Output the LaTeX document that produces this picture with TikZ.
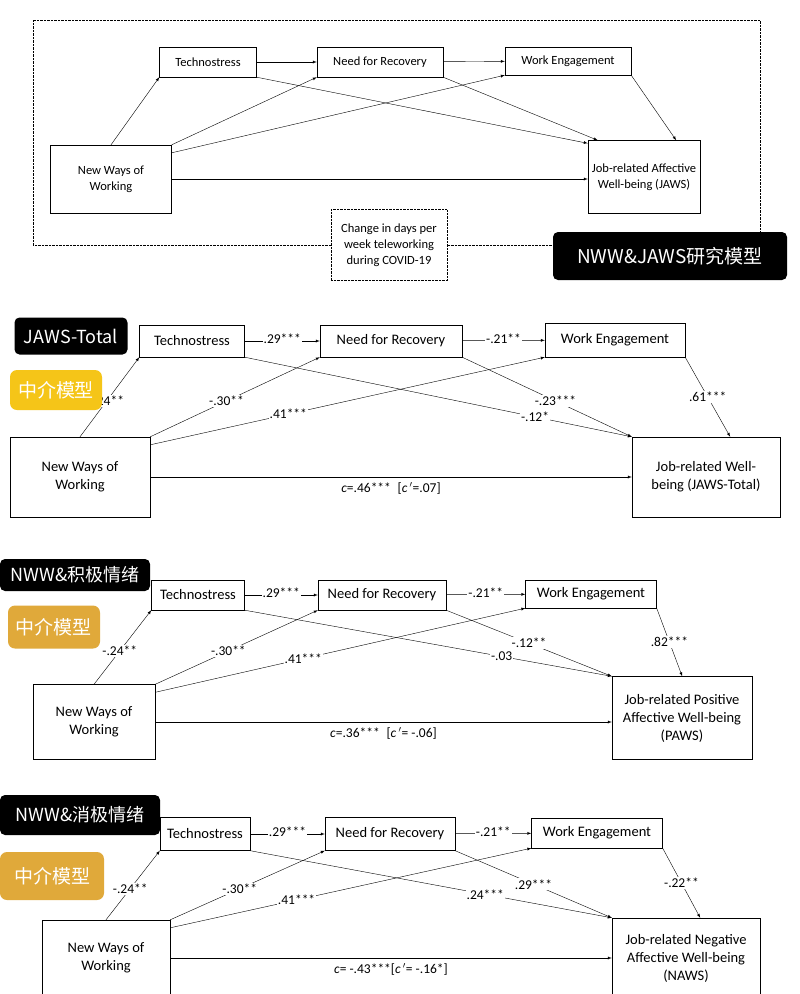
\documentclass[tikz,border=0pt]{standalone}
\usepackage{fontspec}
\setmainfont{Carlito}
\newfontfamily\cjk{Noto Sans CJK SC}
\usetikzlibrary{positioning}
\tikzset{>=latex}
\definecolor{tagyellow}{HTML}{F5C518}
\definecolor{tagorange}{HTML}{E0A93A}
\newcommand{\boxfont}{\fontsize{14.5}{18}\selectfont}
\newcommand{\topfont}{\fontsize{12.5}{16}\selectfont}
\newcommand{\coeffont}{\fontsize{13.5}{16}\selectfont}

\begin{document}
\begin{tikzpicture}[x=1pt, y=-1pt, font=\boxfont,
  box/.style={draw, fill=white, align=center, inner sep=2pt},
  path/.style={->, thin},
  coef/.style={fill=white, inner sep=1pt, font=\coeffont},
  darktag/.style={fill=black, text=white, rounded corners=5pt, font=\cjk\fontsize{18}{20}\selectfont, inner sep=6pt},
  midtag/.style={fill=#1, text=white, rounded corners=7pt, font=\cjk\fontsize{19}{22}\selectfont, inner sep=8pt}]
\useasboundingbox (0,0) rectangle (800,994);
\fill[white] (0,0) rectangle (800,994);

% % % % % % % % % % % % % % % % % % % research model
    \draw[densely dotted] (33,20) rectangle (760,245);
    \node[box, minimum width=97pt, minimum height=30pt, font=\topfont] (ts0) at (208,62) {Technostress};
    \node[box, minimum width=126pt, minimum height=30pt, font=\topfont] (nfr0) at (380,62) {Need for Recovery};
    \node[box, minimum width=126pt, minimum height=28pt, font=\topfont] (we0) at (568,61) {Work Engagement};
    \node[box, minimum width=121pt, minimum height=68pt, font=\topfont] (nww0) at (111,179) {New Ways of\\Working};
    \node[box, minimum width=112pt, minimum height=73pt, font=\topfont] (out0) at (644,177) {Job-related Affective\\Well-being (JAWS)};
    \node[box, densely dotted, minimum width=116pt, minimum height=71pt, font=\topfont] (cov0) at (389,245) {Change in days per\\week teleworking\\during COVID-19};
    \node[darktag, font=\cjk\fontsize{19}{22}\selectfont, minimum width=234pt, minimum height=48pt] (tag0) at (670,256) {NWW\&JAWS研究模型};

    \draw[path] (nww0.north) -- (ts0.south west);
    \draw[path] (ts0) -- (nfr0);
    \draw[path] (nfr0) -- (we0);
    \draw[path] (we0.south east) -- ([xshift=-24pt]out0.north east);
    \draw[path] (ts0.south east) -- ([yshift=-3pt]out0.north west);
    \draw[path] (nfr0.south east) -- ([xshift=10pt]out0.north west);
    \draw[path] (nww0.north east) -- (nfr0.south west);
    \draw[path] ([yshift=-8pt]nww0.north east) -- (we0.south west);
    \draw[path] (nww0.east) -- (nww0.east -| out0.west);

% % % % % % % % % % % % % % % % % % % JAWS total
    \node[box, minimum width=105pt, minimum height=32pt] (ts1) at (192,341) {Technostress};
    \node[box, minimum width=142pt, minimum height=32pt] (nfr1) at (391,341) {Need for Recovery};
    \node[box, minimum width=140pt, minimum height=34pt] (we1) at (615,340) {Work Engagement};
    \node[box, minimum width=140pt, minimum height=80pt] (nww1) at (80,477) {New Ways of\\Working};
    \node[box, minimum width=148pt, minimum height=80pt] (out1) at (706,477) {Job-related Well-\\being (JAWS-Total)};

    \draw[path] (nww1.north) -- (ts1.south west) node[coef, pos=0.45] (l1a) {-.24**};
    \draw[path] (ts1) -- (nfr1) node[coef, midway, above=-4pt] (l1b) {.29***};
    \draw[path] (nfr1) -- (we1) node[coef, midway, above=-4pt] (l1c) {-.21**};
    \draw[path] (we1.south east) -- ([xshift=-50pt]out1.north east) node[coef, midway] (l1d) {.61***};
    \draw[path] (ts1.south east) -- (out1.north west) node[coef, pos=0.75] (l1e) {-.12*};
    \draw[path] (nfr1.south east) -- (out1.north west) node[coef, pos=0.55] (l1f) {-.23***};
    \draw[path] (nww1.north east) -- (nfr1.south west) node[coef, pos=0.45] (l1g) {-.30**};
    \draw[path] ([yshift=-8pt]nww1.north east) -- (we1.south west) node[coef, pos=0.35] (l1h) {.41***};
    \draw[path] (nww1.east) -- (nww1.east -| out1.west) node[midway, below=2pt, font=\coeffont] (l1i) {\textit{c}=.46***\enspace[\textit{c\,$'$}=.07]};
    \node[darktag, minimum width=113pt, minimum height=37pt] (tag1) at (71,336) {JAWS-Total};
    \node[midtag=tagyellow, minimum width=85pt, minimum height=40pt] (mid1) at (56,390) {中介模型};

% % % % % % % % % % % % % % % % % % % PAWS
    \node[box, minimum width=93pt, minimum height=30pt] (ts2) at (198,595) {Technostress};
    \node[box, minimum width=128pt, minimum height=30pt] (nfr2) at (382,595) {Need for Recovery};
    \node[box, minimum width=131pt, minimum height=28pt] (we2) at (591,594) {Work Engagement};
    \node[box, minimum width=122pt, minimum height=75pt] (nww2) at (94,722) {New Ways of\\Working};
    \node[box, minimum width=140pt, minimum height=83pt] (out2) at (682,718) {Job-related Positive\\Affective Well-being\\(PAWS)};

    \draw[path] (nww2.north) -- (ts2.south west) node[coef, pos=0.45] (l2a) {-.24**};
    \draw[path] (ts2) -- (nfr2) node[coef, midway, above=-4pt] (l2b) {.29***};
    \draw[path] (nfr2) -- (we2) node[coef, midway, above=-4pt] (l2c) {-.21**};
    \draw[path] (we2.south east) -- ([xshift=-70pt]out2.north east) node[coef, midway] (l2d) {.82***};
    \draw[path] (ts2.south east) -- (out2.north west) node[coef, pos=0.7] (l2e) {-.03};
    \draw[path] (nfr2.south east) -- (out2.north west) node[coef, pos=0.5] (l2f) {-.12**};
    \draw[path] (nww2.north east) -- (nfr2.south west) node[coef, pos=0.45] (l2g) {-.30**};
    \draw[path] ([yshift=-8pt]nww2.north east) -- (we2.south west) node[coef, pos=0.4] (l2h) {.41***};
    \draw[path] (nww2.east) -- (nww2.east -| out2.west) node[midway, below=2pt, font=\coeffont] (l2i) {\textit{c}=.36***\enspace[\textit{c\,$'$}= -.06]};
    \node[darktag, minimum width=150pt, minimum height=32pt] (tag2) at (75,575) {NWW\&积极情绪};
    \node[midtag=tagorange, minimum width=88pt, minimum height=43pt] (mid2) at (54,627) {中介模型};

% % % % % % % % % % % % % % % % % % % NAWS
    \node[box, minimum width=90pt, minimum height=33pt] (ts3) at (205,834) {Technostress};
    \node[box, minimum width=130pt, minimum height=33pt] (nfr3) at (390,834) {Need for Recovery};
    \node[box, minimum width=131pt, minimum height=30pt] (we3) at (597,833) {Work Engagement};
    \node[box, minimum width=128pt, minimum height=76pt] (nww3) at (106,958) {New Ways of\\Working};
    \node[box, minimum width=148pt, minimum height=80pt] (out3) at (686,958) {Job-related Negative\\Affective Well-being\\(NAWS)};

    \draw[path] (nww3.north) -- (ts3.south west) node[coef, pos=0.45] (l3a) {-.24**};
    \draw[path] (ts3) -- (nfr3) node[coef, midway, above=-4pt] (l3b) {.29***};
    \draw[path] (nfr3) -- (we3) node[coef, midway, above=-4pt] (l3c) {-.21**};
    \draw[path] (we3.south east) -- ([xshift=-60pt]out3.north east) node[coef, midway] (l3d) {-.22**};
    \draw[path] (ts3.south east) -- (out3.north west) node[coef, pos=0.65] (l3e) {.24***};
    \draw[path] (nfr3.south east) -- (out3.north west) node[coef, pos=0.5] (l3f) {.29***};
    \draw[path] (nww3.north east) -- (nfr3.south west) node[coef, pos=0.45] (l3g) {-.30**};
    \draw[path] ([yshift=-8pt]nww3.north east) -- (we3.south west) node[coef, pos=0.35] (l3h) {.41***};
    \draw[path] (nww3.east) -- (nww3.east -| out3.west) node[midway, below=2pt, font=\coeffont] (l3i) {\textit{c}= -.43***[\textit{c\,$'$}= -.16*]};
    \node[darktag, minimum width=160pt, minimum height=40pt] (tag3) at (80,815) {NWW\&消极情绪};
    \node[midtag=tagorange, minimum width=104pt, minimum height=48pt] (mid3) at (52,876) {中介模型};
\end{tikzpicture}
\end{document}
